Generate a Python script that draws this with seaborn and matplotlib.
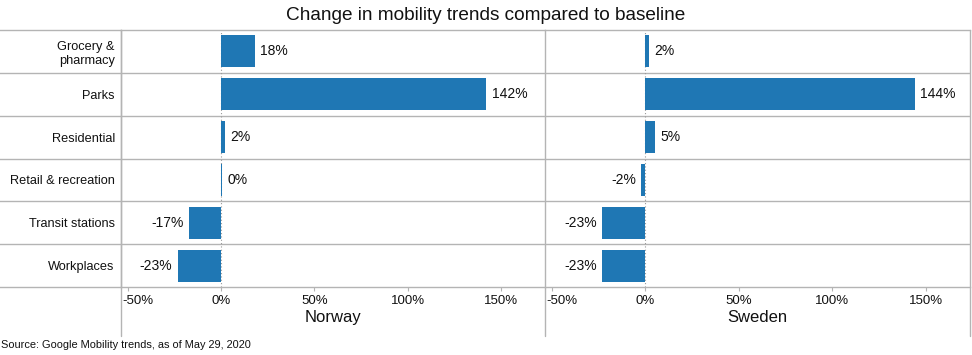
import numpy as np
import pandas as pd
import seaborn as sns
import matplotlib.pyplot as plt
from matplotlib.transforms import ScaledTranslation

categories = ["Grocery &\npharmacy", "Parks", "Residential", "Retail & recreation",
              "Transit stations", "Workplaces"]
norway = [18, 142, 2, 0.4, -17, -23]
sweden = [2, 144, 5, -2, -23, -23]
countries = ["Norway", "Sweden"]
ticks = [-50, 0, 50, 100, 150]

df = pd.concat([
    pd.DataFrame({"category": categories, "change": norway, "country": "Norway"}),
    pd.DataFrame({"category": categories, "change": sweden, "country": "Sweden"}),
])

sns.set_style("white")
plt.rcParams["font.family"] = ["Liberation Sans", "DejaVu Sans"]
grey = "#b4b4b4"
blue = "#1f77b4"
ink = "#111111"

fig = plt.figure(figsize=(9.72, 3.55), dpi=100)
ax1 = fig.add_axes([121 / 972, 68 / 355, 424 / 972, 257 / 355])
ax2 = fig.add_axes([545 / 972, 68 / 355, 425 / 972, 257 / 355])

for ax, country in zip([ax1, ax2], countries):
    sub = df[df["country"] == country]
    sns.barplot(data=sub, x="change", y="category", orient="h", color=blue,
                width=0.75, saturation=1, linewidth=0, ax=ax, zorder=2)
    ax.set_xlim(-53.5, 173.5)
    ax.set_ylim(5.5, -0.5)
    ax.axvline(0, color="#999999", ls=(0, (1, 2)), lw=0.8, zorder=1)
    for y in np.arange(0.5, len(categories) - 0.5):
        ax.axhline(y, color=grey, lw=1, zorder=0)
    ax.bar_label(ax.containers[0], labels=[f"{v:.0f}%" for v in sub["change"]],
                 padding=4, fontsize=10, color=ink)
    ax.set_xticks(ticks)
    ax.set_xticklabels([f"{t}%" for t in ticks], fontsize=9.5, color=ink)
    ax.tick_params(axis="x", length=3, color=grey, pad=3, bottom=True)
    first = ax.get_xticklabels()[0]
    first.set_ha("left")
    first.set_transform(first.get_transform() + ScaledTranslation(-0.05, 0, fig.dpi_scale_trans))
    ax.set_xlabel(country, fontsize=12, color=ink, labelpad=2)
    ax.set_ylabel("")
    for s in ax.spines.values():
        s.set_color(grey)
        s.set_linewidth(1)
    ax.spines["right"].set_visible(False)
    # divider line extends below the axis
    ax.plot([0, 0], [-0.19, 1], transform=ax.transAxes, color=grey, lw=1, clip_on=False)

ax1.tick_params(axis="y", length=0, pad=4.5, labelsize=9.2, labelcolor=ink)
ax2.set_yticklabels([])
ax2.tick_params(axis="y", length=0)
ax2.spines["left"].set_visible(False)
ax2.plot([1, 1], [-0.19, 1], transform=ax2.transAxes, color=grey, lw=1, clip_on=False)

# row separators and top/bottom lines reach into the label column
for y in np.arange(-0.5, len(categories)):
    ax1.axhline(y, xmin=-0.29, xmax=0, color=grey, lw=1, clip_on=False)

fig.suptitle("Change in mobility trends compared to baseline", fontsize=13.7,
             x=0.5, y=0.98, va="top", color=ink)
fig.text(0.001, 0.02, "Source: Google Mobility trends, as of May 29, 2020",
         fontsize=7.9, color=ink)

fig.savefig("out.png", dpi=100)
